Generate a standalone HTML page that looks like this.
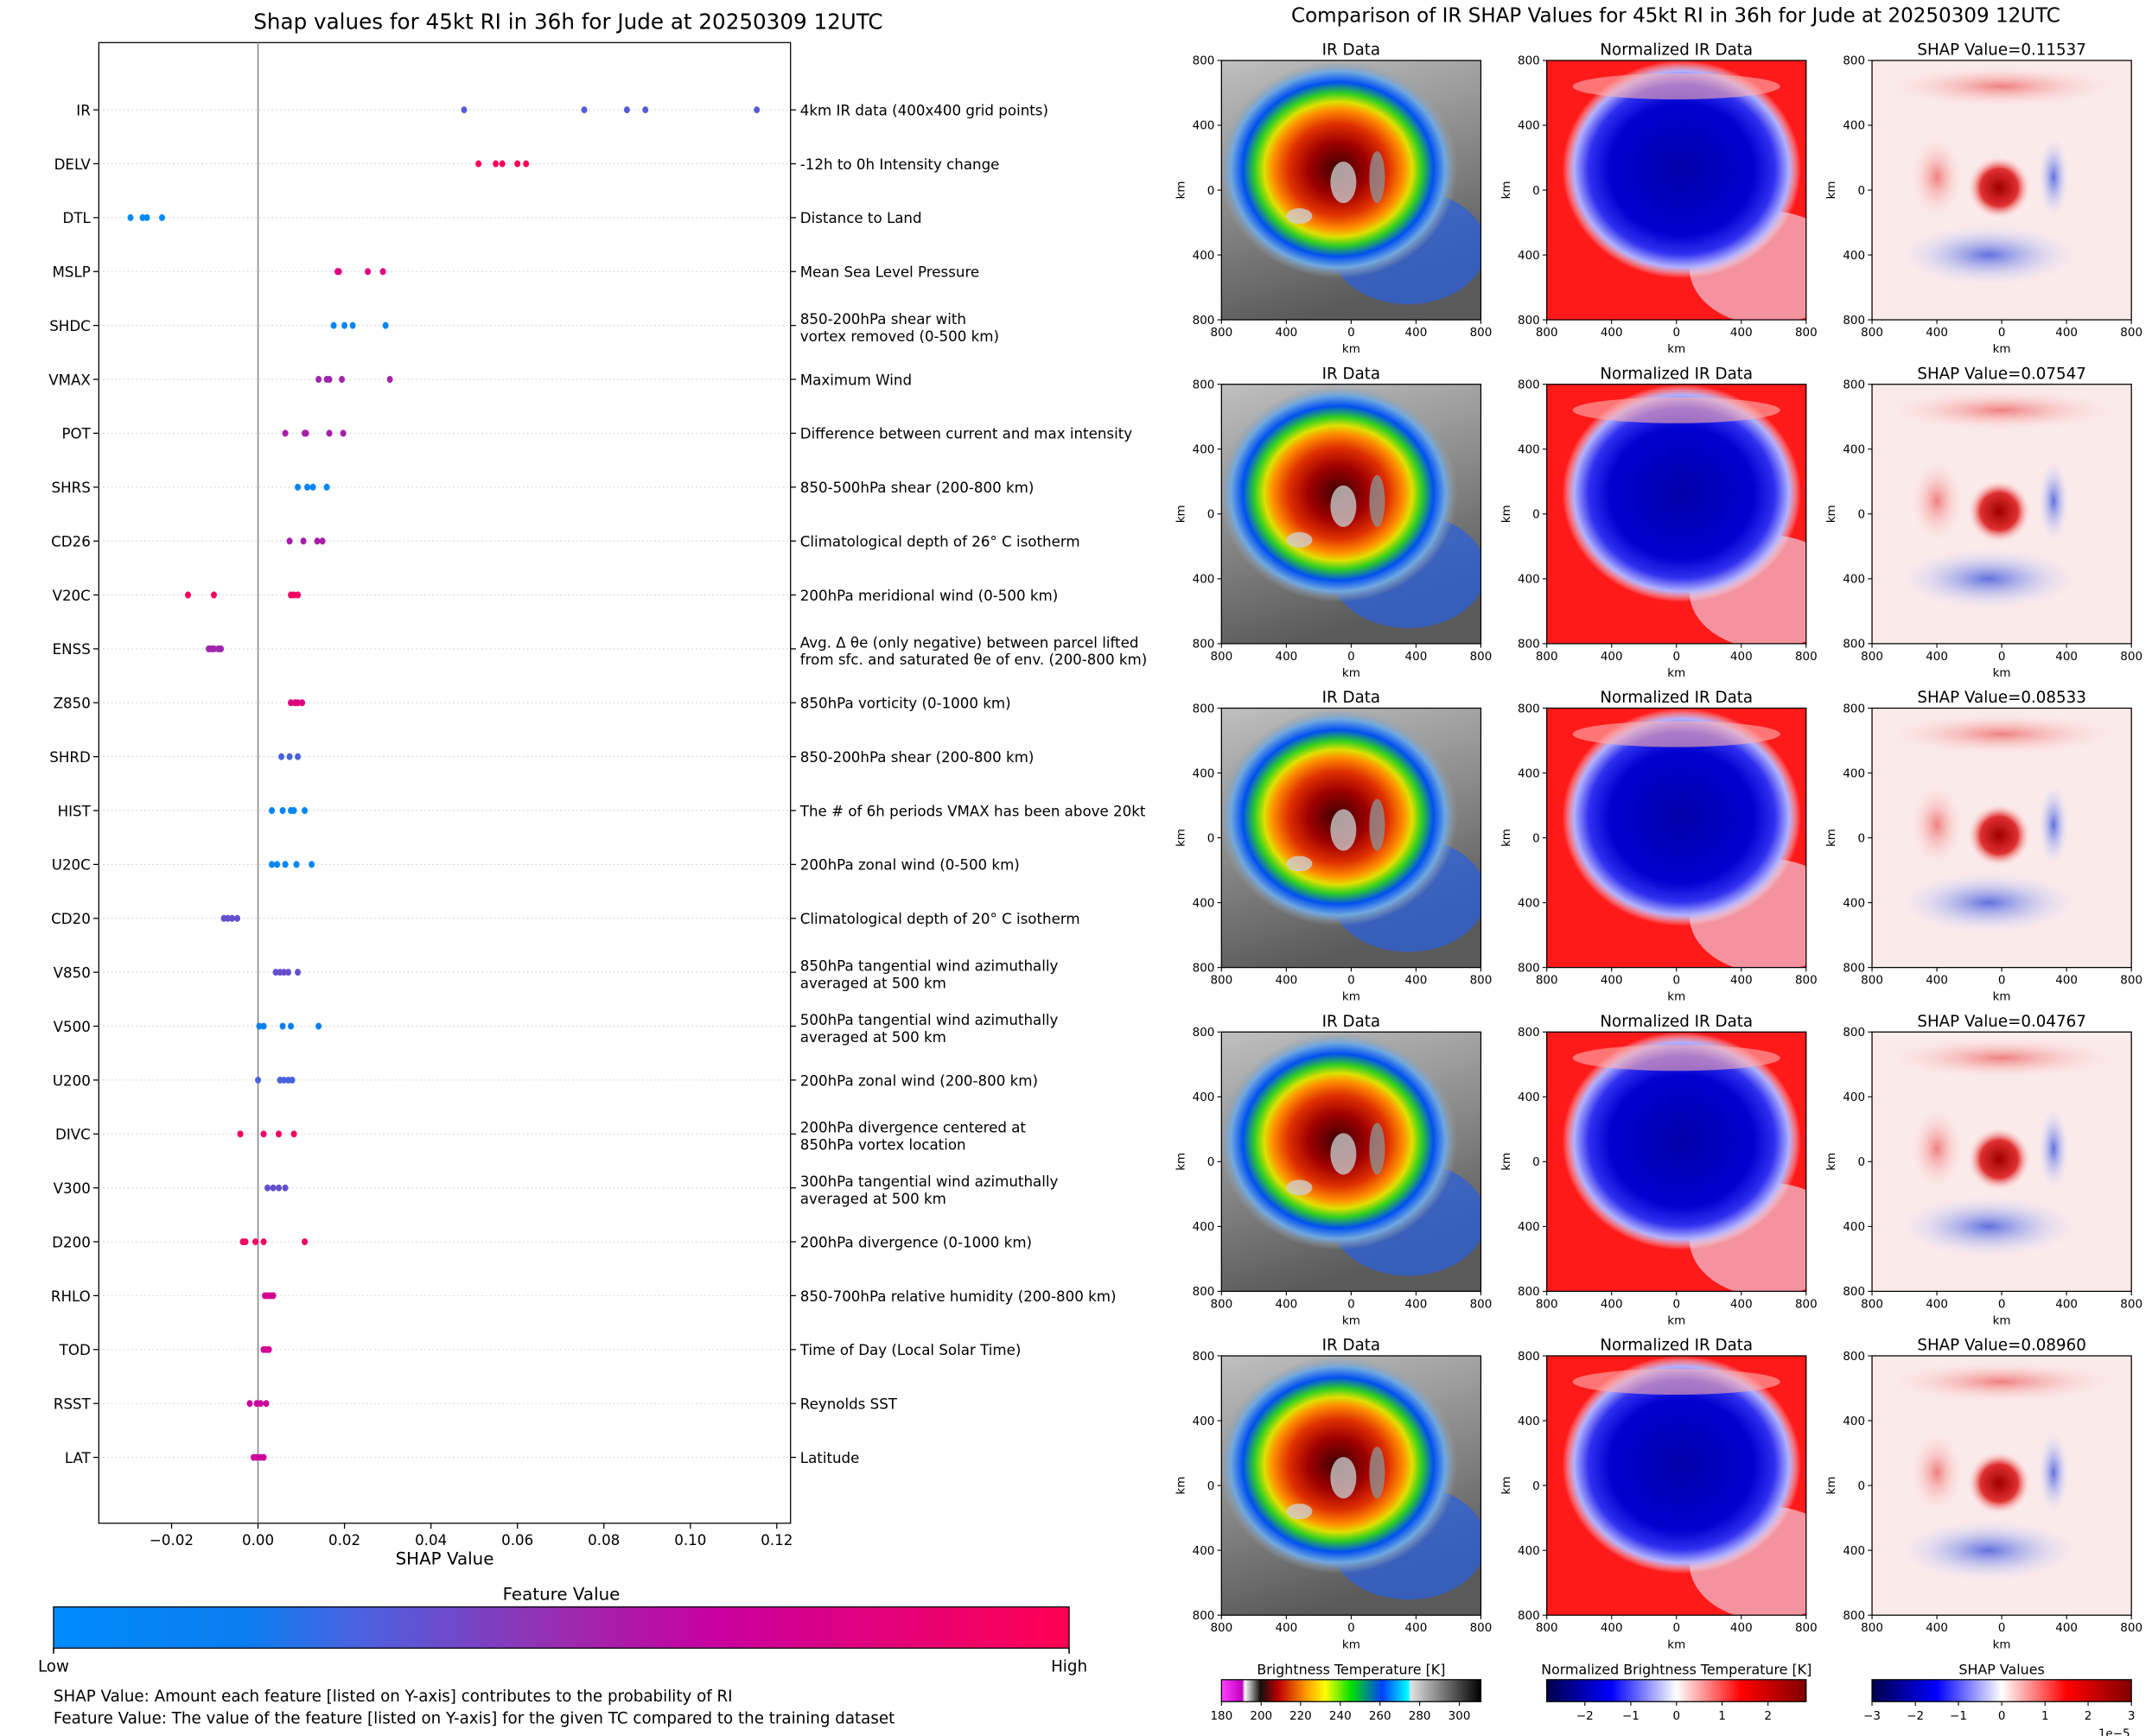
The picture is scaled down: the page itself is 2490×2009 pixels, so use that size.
<!DOCTYPE html>
<html><head><meta charset="utf-8"><style>
html,body{margin:0;padding:0;background:#fff}
svg{display:block;font-family:"DejaVu Sans","Liberation Sans",sans-serif}
</style></head><body>
<svg id="chart" xmlns="http://www.w3.org/2000/svg" width="2490" height="2009" viewBox="0 0 1568 1265">
<defs>
<linearGradient id="featGrad" x1="0" x2="1" y1="0" y2="0">
<stop offset="0" stop-color="#008bfb"/><stop offset="0.19" stop-color="#0a7df0"/><stop offset="0.3" stop-color="#4a62e0"/><stop offset="0.5" stop-color="#9a2cb0"/><stop offset="0.65" stop-color="#c800a0"/><stop offset="1" stop-color="#ff0052"/>
</linearGradient>
<radialGradient id="irStorm" cx="0.5" cy="0.5" r="0.5">
<stop offset="0" stop-color="#3a0000"/><stop offset="0.25" stop-color="#a00000"/><stop offset="0.42" stop-color="#e03000"/><stop offset="0.55" stop-color="#ff9000"/><stop offset="0.62" stop-color="#e0e000"/><stop offset="0.7" stop-color="#30d020"/><stop offset="0.8" stop-color="#0050f0"/><stop offset="0.9" stop-color="#70a8e0"/><stop offset="1" stop-color="#a0a0a0" stop-opacity="0"/>
</radialGradient>
<linearGradient id="irBg" x1="0" y1="0" x2="0.3" y2="1"><stop offset="0" stop-color="#c0c0c0"/><stop offset="1" stop-color="#5a5a5a"/></linearGradient>
<radialGradient id="normStorm" cx="0.5" cy="0.5" r="0.5">
<stop offset="0" stop-color="#0000a8"/><stop offset="0.6" stop-color="#0000d0"/><stop offset="0.78" stop-color="#3030f0"/><stop offset="0.9" stop-color="#b0b0ff"/><stop offset="1" stop-color="#ffffff" stop-opacity="0"/>
</radialGradient>
<radialGradient id="shapRed" cx="0.5" cy="0.5" r="0.5"><stop offset="0" stop-color="#a00000"/><stop offset="0.6" stop-color="#e03030"/><stop offset="1" stop-color="#ffd0d0" stop-opacity="0"/></radialGradient>
<radialGradient id="shapBlue" cx="0.5" cy="0.5" r="0.5"><stop offset="0" stop-color="#6070e0"/><stop offset="1" stop-color="#e0e4ff" stop-opacity="0"/></radialGradient>
<radialGradient id="shapPink" cx="0.5" cy="0.5" r="0.5"><stop offset="0" stop-color="#f08080"/><stop offset="1" stop-color="#ffe0e0" stop-opacity="0"/></radialGradient>
<linearGradient id="cbIR" x1="0" x2="1"><stop offset="0" stop-color="#ff40ff"/><stop offset="0.08" stop-color="#c000c0"/><stop offset="0.09" stop-color="#ffffff"/><stop offset="0.15" stop-color="#101010"/><stop offset="0.22" stop-color="#c00000"/><stop offset="0.33" stop-color="#ffa000"/><stop offset="0.4" stop-color="#ffff00"/><stop offset="0.5" stop-color="#00e000"/><stop offset="0.62" stop-color="#0040ff"/><stop offset="0.72" stop-color="#00ffff"/><stop offset="0.73" stop-color="#e0e0e0"/><stop offset="1" stop-color="#000000"/></linearGradient>
<linearGradient id="cbSeis" x1="0" x2="1"><stop offset="0" stop-color="#00004c"/><stop offset="0.25" stop-color="#0000ff"/><stop offset="0.5" stop-color="#ffffff"/><stop offset="0.75" stop-color="#ff0000"/><stop offset="1" stop-color="#800000"/></linearGradient>
</defs>
<text x="414" y="21" font-size="15.5" text-anchor="middle">Shap values for 45kt RI in 36h for Jude at 20250309 12UTC</text>
<text x="1221" y="16" font-size="14.5" text-anchor="middle">Comparison of IR SHAP Values for 45kt RI in 36h for Jude at 20250309 12UTC</text>
<g id="plot"></g>
<g id="panels"></g>
</svg>
<script>
const features=["IR","DELV","DTL","MSLP","SHDC","VMAX","POT","SHRS","CD26","V20C","ENSS","Z850","SHRD","HIST","U20C","CD20","V850","V500","U200","DIVC","V300","D200","RHLO","TOD","RSST","LAT"];
const descriptions=[["4km IR data (400x400 grid points)"],["-12h to 0h Intensity change"],["Distance to Land"],["Mean Sea Level Pressure"],["850-200hPa shear with","vortex removed (0-500 km)"],["Maximum Wind"],["Difference between current and max intensity"],["850-500hPa shear (200-800 km)"],["Climatological depth of 26° C isotherm"],["200hPa meridional wind (0-500 km)"],["Avg. Δ θe (only negative) between parcel lifted","from sfc. and saturated θe of env. (200-800 km)"],["850hPa vorticity (0-1000 km)"],["850-200hPa shear (200-800 km)"],["The # of 6h periods VMAX has been above 20kt"],["200hPa zonal wind (0-500 km)"],["Climatological depth of 20° C isotherm"],["850hPa tangential wind azimuthally","averaged at 500 km"],["500hPa tangential wind azimuthally","averaged at 500 km"],["200hPa zonal wind (200-800 km)"],["200hPa divergence centered at","850hPa vortex location"],["300hPa tangential wind azimuthally","averaged at 500 km"],["200hPa divergence (0-1000 km)"],["850-700hPa relative humidity (200-800 km)"],["Time of Day (Local Solar Time)"],["Reynolds SST"],["Latitude"]];
const shapValues=[
[0.04767,0.07547,0.08533,0.0896,0.11537],
[0.051,0.055,0.0565,0.060,0.062],
[-0.0295,-0.0267,-0.0257,-0.0222],
[0.0184,0.0187,0.0254,0.0289],
[0.0175,0.020,0.0219,0.0295],
[0.014,0.0159,0.0165,0.0194,0.0305],
[0.0063,0.0108,0.0111,0.0165,0.0197],
[0.0092,0.0114,0.0127,0.0159],
[0.0073,0.0105,0.0137,0.0149],
[-0.0162,-0.0102,0.0076,0.0083,0.0092],
[-0.0114,-0.0108,-0.0102,-0.0092,-0.0086],
[0.0076,0.0086,0.0092,0.0102],
[0.0054,0.0073,0.0092],
[0.0032,0.0057,0.0076,0.0083,0.0108],
[0.0032,0.0044,0.0063,0.0089,0.0124],
[-0.0079,-0.007,-0.006,-0.0048],
[0.0041,0.0051,0.006,0.007,0.0092],
[0.0003,0.0013,0.0057,0.0076,0.014],
[0.0,0.0051,0.006,0.007,0.0079],
[-0.0041,0.0013,0.0048,0.0083],
[0.0022,0.0035,0.0048,0.0063],
[-0.0035,-0.0029,-0.0006,0.0013,0.0108],
[0.0016,0.0022,0.0029,0.0035],
[0.0013,0.0019,0.0025],
[-0.0019,-0.0003,0.0006,0.0019],
[-0.001,-0.0003,0.0006,0.0013]];
const featureValues=[0.33,0.98,0.02,0.8,0.08,0.52,0.55,0.07,0.55,0.93,0.52,0.8,0.3,0.08,0.06,0.37,0.37,0.16,0.3,0.93,0.37,0.93,0.72,0.72,0.68,0.68];
const xTicks=[-0.02,0,0.02,0.04,0.06,0.08,0.10,0.12];
const xTickLabels=["−0.02","0.00","0.02","0.04","0.06","0.08","0.10","0.12"];
const panelShap=["0.11537","0.07547","0.08533","0.04767","0.08960"];

const NS="http://www.w3.org/2000/svg";
function mk(tag,attrs,parent,text){const e=document.createElementNS(NS,tag);for(const k in attrs)e.setAttribute(k,attrs[k]);if(text!==undefined)e.textContent=text;parent.appendChild(e);return e;}
const L=72,R=576,T=31,B=1110;
const xScale=v=>188+(v/0.02)*63;
const yScale=i=>80+i*(1062-80)/(features.length-1);
const cmapStops=[[0,[0,139,251]],[0.19,[10,125,240]],[0.3,[74,98,224]],[0.5,[154,44,176]],[0.65,[200,0,160]],[1,[255,0,82]]];
function cmap(t){for(let i=1;i<cmapStops.length;i++){if(t<=cmapStops[i][0]){const a=cmapStops[i-1],b=cmapStops[i];const f=(t-a[0])/(b[0]-a[0]);const c=a[1].map((v,j)=>Math.round(v+(b[1][j]-v)*f));return `rgb(${c})`;}}return "rgb(255,0,82)";}
const g=document.getElementById('plot');
let fr=mk('rect',{x:L,y:T,width:R-L,height:B-T,fill:'none',stroke:'#000','stroke-width':0.8},g);


let zl=mk('line',{x1:xScale(0),x2:xScale(0),y1:T,y2:B,stroke:'#888','stroke-width':1},g);


features.forEach((f,i)=>{
  const y=yScale(i);
  let gl=mk('line',{x1:L,x2:R,y1:y,y2:y,stroke:'#ccc','stroke-width':0.6,'stroke-dasharray':'1,2'},g);
  
  
  mk('line',{x1:L-4,x2:L,y1:y,y2:y,stroke:'#000','stroke-width':0.8},g);
  mk('line',{x1:R,x2:R+4,y1:y,y2:y,stroke:'#000','stroke-width':0.8},g);
  let lt=mk('text',{x:L-6,y:y+4,'font-size':10.5,'text-anchor':'end'},g,f);
  
  
  const d=descriptions[i];
  d.forEach((line,k)=>{
    const yy=d.length===1?y+4:y-1+k*12.5;
    let dt=mk('text',{x:R+7,y:yy,'font-size':10.5},g,line);
    
    
  });
  shapValues[i].forEach(v=>{
    let c=mk('ellipse',{cx:xScale(v),cy:y,rx:2.2,ry:2.5,fill:cmap(featureValues[i])},g);
    
    
  });
});
xTicks.forEach((v,i)=>{
  const x=xScale(v);
  mk('line',{x1:x,x2:x,y1:B,y2:B+4,stroke:'#000','stroke-width':0.8},g);
  let t=mk('text',{x:x,y:B+16,'font-size':10.5,'text-anchor':'middle'},g,xTickLabels[i]);
  
  
});
let xt=mk('text',{x:324,y:1140,'font-size':12.5,'text-anchor':'middle'},g,'SHAP Value');


let ft=mk('text',{x:409,y:1166,'font-size':12.5,'text-anchor':'middle'},g,'Feature Value');


let cb=mk('rect',{x:39,y:1171,width:740,height:30,fill:'url(#featGrad)',stroke:'#000','stroke-width':0.8},g);


mk('line',{x1:39,x2:39,y1:1201,y2:1205,stroke:'#000'},g);
mk('line',{x1:779,x2:779,y1:1201,y2:1205,stroke:'#000'},g);
let lo=mk('text',{x:39,y:1218,'font-size':11.5,'text-anchor':'middle'},g,'Low');


let hi=mk('text',{x:779,y:1218,'font-size':11.5,'text-anchor':'middle'},g,'High');


let n1=mk('text',{x:39,y:1240,'font-size':11.5},g,'SHAP Value: Amount each feature [listed on Y-axis] contributes to the probability of RI');


let n2=mk('text',{x:39,y:1256,'font-size':11.5},g,'Feature Value: The value of the feature [listed on Y-axis] for the given TC compared to the training dataset');



// panels
const P=document.getElementById('panels');
const colX=[890,1127,1364],W=189,rowY=[44,280,516,752,988];
const titles=["IR Data","Normalized IR Data"];
const kmTicks=["800","400","0","400","800"];
rowY.forEach((y0,r)=>{
  colX.forEach((x0,c)=>{
    const pg=mk('g',{},P);
    
    
    const cid='clip'+r+'_'+c;
    const cp=mk('clipPath',{id:cid},pg);mk('rect',{x:x0,y:y0,width:W,height:W},cp);
    const ig=mk('g',{'clip-path':`url(#${cid})`},pg);
    if(c===0){
      mk('rect',{x:x0,y:y0,width:W,height:W,fill:'url(#irBg)'},ig);
      mk('ellipse',{cx:x0+W*0.72,cy:y0+W*0.72,rx:W*0.3,ry:W*0.22,fill:'#2860e0',opacity:0.7},ig);
      mk('ellipse',{cx:x0+W*0.45,cy:y0+W*0.42,rx:W*0.46,ry:W*0.42,fill:'url(#irStorm)'},ig);
      mk('ellipse',{cx:x0+W*0.47,cy:y0+W*0.47,rx:W*0.05,ry:W*0.08,fill:'#c8c8c8',opacity:0.8},ig);
      mk('ellipse',{cx:x0+W*0.6,cy:y0+W*0.45,rx:W*0.03,ry:W*0.1,fill:'#909090',opacity:0.8},ig);
      mk('ellipse',{cx:x0+W*0.3,cy:y0+W*0.6,rx:W*0.05,ry:W*0.03,fill:'#d0d0d0',opacity:0.8},ig);
    }else if(c===1){
      mk('rect',{x:x0,y:y0,width:W,height:W,fill:'#ff1a1a'},ig);
      mk('ellipse',{cx:x0+W*0.85,cy:y0+W*0.8,rx:W*0.3,ry:W*0.22,fill:'#f0c8d8',opacity:0.7},ig);
      mk('ellipse',{cx:x0+W*0.52,cy:y0+W*0.42,rx:W*0.46,ry:W*0.42,fill:'url(#normStorm)'},ig);
      mk('ellipse',{cx:x0+W*0.5,cy:y0+W*0.1,rx:W*0.4,ry:W*0.05,fill:'#ffb0b0',opacity:0.6},ig);
    }else{
      mk('rect',{x:x0,y:y0,width:W,height:W,fill:'#fbeaea'},ig);
      mk('ellipse',{cx:x0+W*0.45,cy:y0+W*0.75,rx:W*0.35,ry:W*0.12,fill:'url(#shapBlue)'},ig);
      mk('ellipse',{cx:x0+W*0.25,cy:y0+W*0.45,rx:W*0.1,ry:W*0.16,fill:'url(#shapPink)'},ig);
      mk('ellipse',{cx:x0+W*0.7,cy:y0+W*0.45,rx:W*0.06,ry:W*0.16,fill:'url(#shapBlue)'},ig);
      mk('ellipse',{cx:x0+W*0.49,cy:y0+W*0.49,rx:W*0.12,ry:W*0.12,fill:'url(#shapRed)'},ig);
      mk('ellipse',{cx:x0+W*0.5,cy:y0+W*0.1,rx:W*0.45,ry:W*0.08,fill:'url(#shapPink)'},ig);
    }
    mk('rect',{x:x0,y:y0,width:W,height:W,fill:'none',stroke:'#000','stroke-width':0.8},pg);
    const tt=c<2?titles[c]:'SHAP Value='+panelShap[r];
    let pt=mk('text',{x:x0+W/2,y:y0-4,'font-size':11.5,'text-anchor':'middle'},pg,tt);
    
    
    kmTicks.forEach((k,i)=>{
      const x=x0+i*W/4,y=y0+i*W/4;
      mk('line',{x1:x,x2:x,y1:y0+W,y2:y0+W+3,stroke:'#000','stroke-width':0.7},pg);
      mk('text',{x:x,y:y0+W+12,'font-size':8.5,'text-anchor':'middle'},pg,k);
      mk('line',{x1:x0-3,x2:x0,y1:y,y2:y,stroke:'#000','stroke-width':0.7},pg);
      mk('text',{x:x0-5,y:y+3,'font-size':8.5,'text-anchor':'end'},pg,k);
    });
    mk('text',{x:x0+W/2,y:y0+W+24,'font-size':8.5,'text-anchor':'middle'},pg,'km');
    mk('text',{x:0,y:0,'font-size':8.5,'text-anchor':'middle',transform:`translate(${x0-27},${y0+W/2}) rotate(-90)`},pg,'km');
  });
});
const cbTitles=["Brightness Temperature [K]","Normalized Brightness Temperature [K]","SHAP Values"];
const cbFills=["url(#cbIR)","url(#cbSeis)","url(#cbSeis)"];
const cbTicks=[["180","200","220","240","260","280","300"],["−2","−1","0","1","2"],["−3","−2","−1","0","1","2","3"]];
const cbPos=[[0,0.153,0.305,0.458,0.611,0.764,0.917],[0.147,0.324,0.5,0.676,0.853],[0,0.167,0.333,0.5,0.667,0.833,1]];
colX.forEach((x0,c)=>{
  const cg=mk('g',{},P);
  
  
  mk('text',{x:x0+W/2,y:1220,'font-size':10,'text-anchor':'middle'},cg,cbTitles[c]);
  mk('rect',{x:x0,y:1224,width:W,height:16,fill:cbFills[c],stroke:'#000','stroke-width':0.8},cg);
  cbTicks[c].forEach((t,i)=>{
    const x=x0+cbPos[c][i]*W;
    mk('line',{x1:x,x2:x,y1:1240,y2:1243,stroke:'#000','stroke-width':0.7},cg);
    mk('text',{x:x,y:1253,'font-size':8.5,'text-anchor':'middle'},cg,t);
  });
});
mk('text',{x:1552,y:1266,'font-size':8.5,'text-anchor':'end'},P,'1e−5');
</script>
</body></html>
